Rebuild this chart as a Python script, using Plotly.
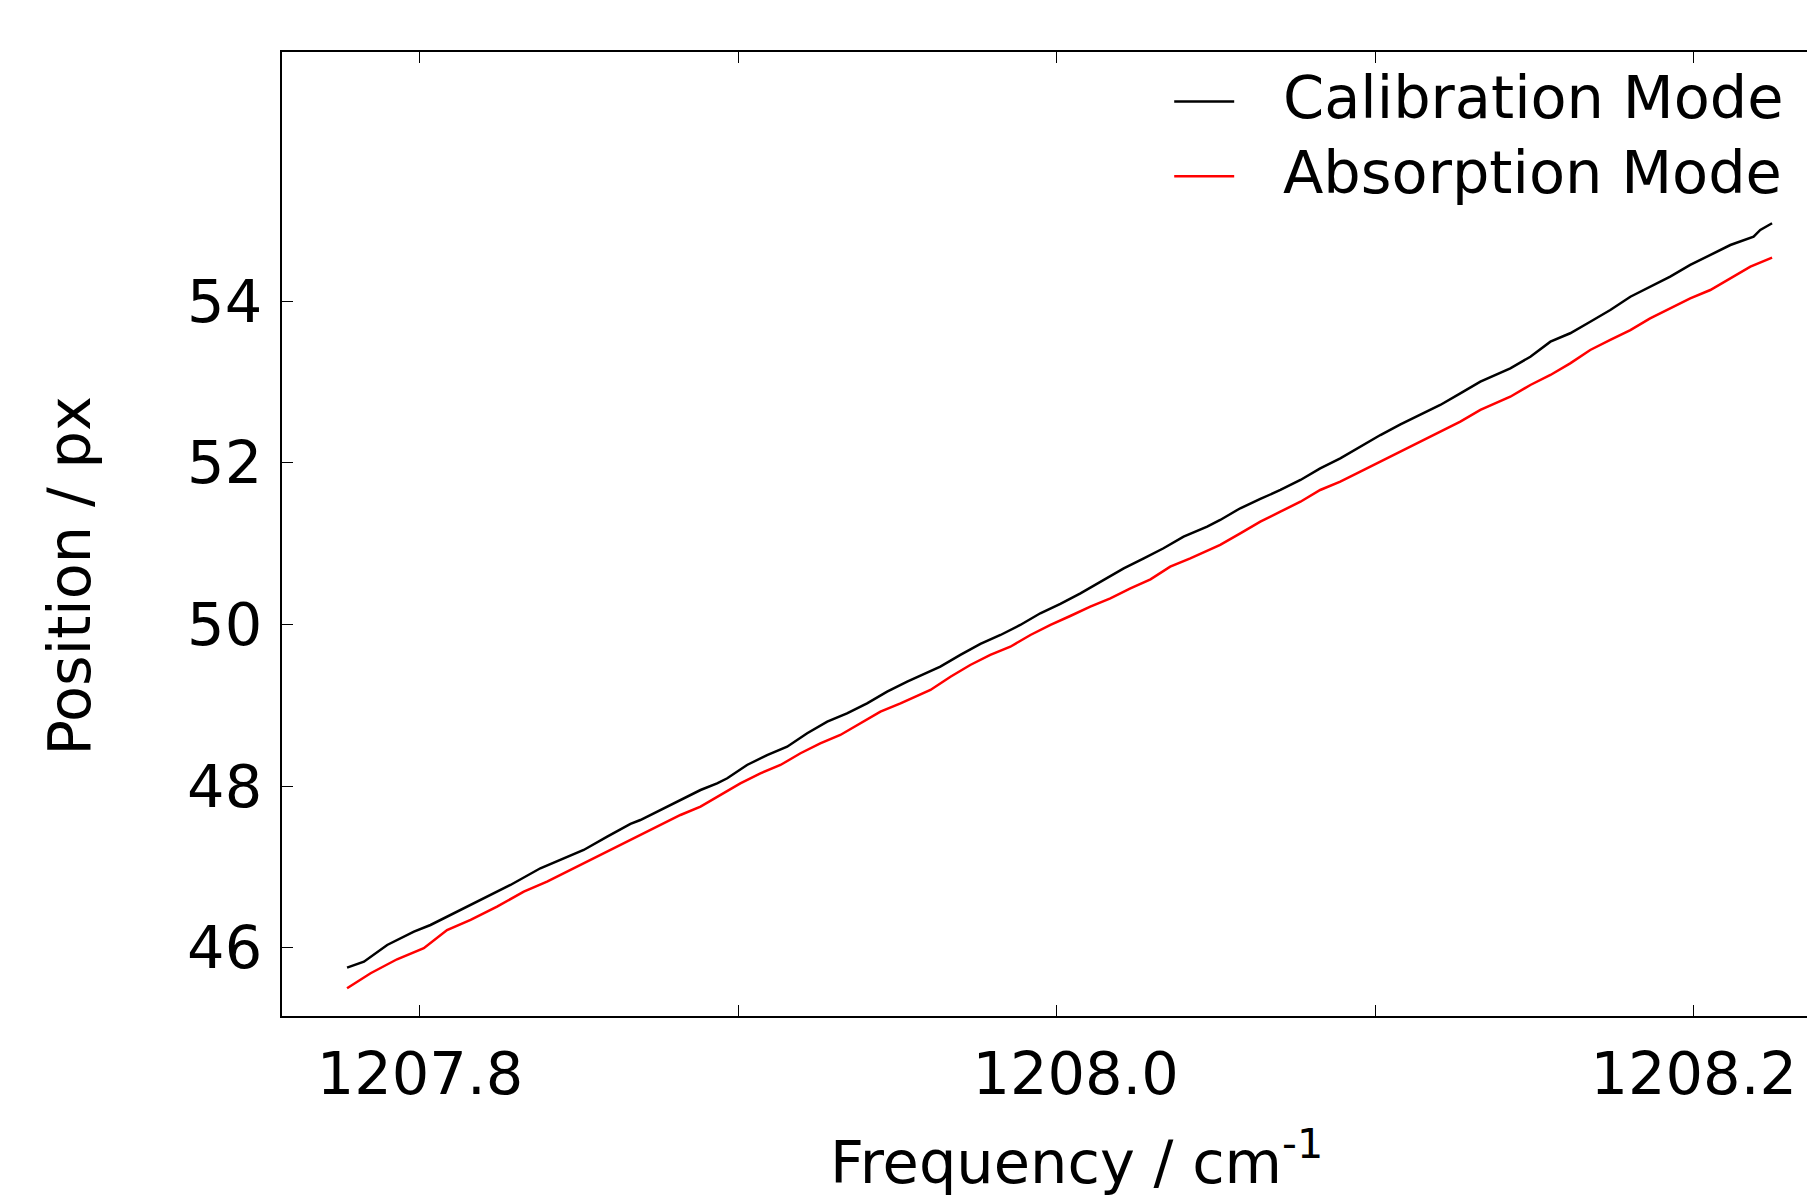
import plotly.graph_objects as go

# ---- data ----
cal_freq = [1207.7771, 1207.7824, 1207.7897, 1207.7981, 1207.8033, 1207.8138, 1207.8211, 1207.8284,
            1207.8378, 1207.8452, 1207.8514, 1207.8588, 1207.8661, 1207.8692, 1207.8755, 1207.8818,
            1207.8881, 1207.8933, 1207.8965, 1207.9027, 1207.9090, 1207.9153, 1207.9216, 1207.9279,
            1207.9341, 1207.9404, 1207.9467, 1207.9530, 1207.9634, 1207.9697, 1207.9760, 1207.9823,
            1207.9885, 1207.9948, 1208.0011, 1208.0074, 1208.0137, 1208.0210, 1208.0273, 1208.0335,
            1208.0398, 1208.0472, 1208.0513, 1208.0576, 1208.0639, 1208.0702, 1208.0765, 1208.0827,
            1208.0890, 1208.0953, 1208.1016, 1208.1079, 1208.1141, 1208.1204, 1208.1267, 1208.1330,
            1208.1424, 1208.1487, 1208.1550, 1208.1612, 1208.1675, 1208.1738, 1208.1801, 1208.1863,
            1208.1926, 1208.1989, 1208.2052, 1208.2115, 1208.2188, 1208.2209, 1208.2246]
cal_pos = [45.754, 45.828, 46.035, 46.199, 46.282, 46.489, 46.641, 46.777,
           46.984, 47.107, 47.210, 47.375, 47.532, 47.581, 47.705, 47.829,
           47.952, 48.035, 48.097, 48.262, 48.385, 48.488, 48.654, 48.797,
           48.901, 49.025, 49.169, 49.292, 49.478, 49.623, 49.759, 49.870,
           49.994, 50.139, 50.254, 50.386, 50.530, 50.695, 50.819, 50.943,
           51.086, 51.210, 51.293, 51.438, 51.553, 51.664, 51.788, 51.932,
           52.056, 52.200, 52.344, 52.477, 52.592, 52.716, 52.860, 53.004,
           53.170, 53.313, 53.499, 53.603, 53.746, 53.891, 54.055, 54.179,
           54.303, 54.448, 54.571, 54.695, 54.798, 54.881, 54.964]

abs_freq = [1207.7771, 1207.7845, 1207.7928, 1207.8012, 1207.8085, 1207.8159, 1207.8242, 1207.8326,
            1207.8399, 1207.8473, 1207.8556, 1207.8619, 1207.8692, 1207.8755, 1207.8818, 1207.8881,
            1207.8944, 1207.9006, 1207.9069, 1207.9132, 1207.9195, 1207.9257, 1207.9320, 1207.9383,
            1207.9446, 1207.9509, 1207.9603, 1207.9666, 1207.9728, 1207.9791, 1207.9854, 1207.9917,
            1207.9980, 1208.0042, 1208.0105, 1208.0168, 1208.0231, 1208.0294, 1208.0356, 1208.0419,
            1208.0482, 1208.0513, 1208.0576, 1208.0639, 1208.0702, 1208.0765, 1208.0827, 1208.0890,
            1208.0953, 1208.1016, 1208.1079, 1208.1141, 1208.1204, 1208.1267, 1208.1330, 1208.1392,
            1208.1424, 1208.1487, 1208.1550, 1208.1612, 1208.1675, 1208.1738, 1208.1801, 1208.1863,
            1208.1926, 1208.1989, 1208.2052, 1208.2115, 1208.2178, 1208.2246]
abs_pos = [45.499, 45.685, 45.858, 45.994, 46.220, 46.344, 46.509, 46.694,
           46.818, 46.963, 47.127, 47.251, 47.396, 47.519, 47.643, 47.746,
           47.891, 48.035, 48.159, 48.262, 48.407, 48.530, 48.633, 48.778,
           48.921, 49.025, 49.190, 49.354, 49.499, 49.623, 49.725, 49.870,
           49.994, 50.105, 50.220, 50.324, 50.448, 50.559, 50.715, 50.819,
           50.930, 50.984, 51.128, 51.272, 51.396, 51.519, 51.664, 51.767,
           51.890, 52.014, 52.146, 52.262, 52.385, 52.509, 52.654, 52.756,
           52.818, 52.963, 53.087, 53.231, 53.396, 53.520, 53.643, 53.788,
           53.912, 54.036, 54.138, 54.283, 54.427, 54.538]

x_major_ticks = [1207.8, 1208.0, 1208.2]
x_major_labels = ["1207.8", "\u00a0\u00a01208.0", "1208.2"]
x_minor_ticks = [1207.9, 1208.1]
y_tickvals = [46, 48, 50, 52, 54]
y_ticktext = ["46", "48", "50", "52", "54"]

series_names = ["Calibration Mode", "Absorption Mode"]
series_colors = ["#000000", "#ff0000"]

# ---- layout constants (page pixels; page body margin removed by post_script) ----
W, H = 1807, 1198
L, T = 281.5, 52
B = H - 1016
R = 0
PW, PH = W - L - R, H - T - B
FONT = "DejaVu Sans"
FS = 59


def px_x(p):  # page pixel -> paper fraction
    return (p - L) / PW


def px_y(p):
    return 1 - (p - T) / PH


fig = go.Figure()
for xs, ys, name, col in [(cal_freq, cal_pos, series_names[0], series_colors[0]),
                          (abs_freq, abs_pos, series_names[1], series_colors[1])]:
    fig.add_trace(go.Scatter(x=xs, y=ys, mode="lines", name=name,
                             line=dict(color=col, width=2.5), showlegend=False))

axis_common = dict(showline=True, linecolor="black", linewidth=2, ticks="inside",
                   ticklen=11, tickwidth=1.3, tickcolor="black", showgrid=False,
                   zeroline=False, tickfont=dict(family=FONT, size=FS, color="black"))

fig.update_xaxes(range=[1207.75667, 1208.23557], tickmode="array", tickvals=x_major_ticks,
                 ticktext=x_major_labels, mirror="allticks", ticklabelstandoff=5,
                 minor=dict(tickmode="array", tickvals=x_minor_ticks, ticks="inside",
                            ticklen=11, tickwidth=1.3, tickcolor="black", showgrid=False),
                 **axis_common)
fig.update_yaxes(range=[45.156, 57.083], tickmode="array", tickvals=y_tickvals,
                 ticktext=y_ticktext, mirror=False, ticklabelstandoff=6, **axis_common)

# legend (manual, matching matplotlib placement)
legend_rows = [101.4, 176.3]
shapes = []
annotations = []
for name, col, yr in zip(series_names, series_colors, legend_rows):
    shapes.append(dict(type="line", xref="paper", yref="paper",
                       x0=px_x(1174), x1=px_x(1234), y0=px_y(yr), y1=px_y(yr),
                       line=dict(color=col, width=2.5)))
    annotations.append(dict(text=name, xref="paper", yref="paper", x=px_x(1281),
                            y=px_y(yr - 4), xanchor="left", yanchor="middle", showarrow=False,
                            font=dict(family=FONT, size=FS, color="black")))

annotations.append(dict(text="Frequency / cm<sup>-1</sup>", xref="paper", yref="paper",
                        x=px_x(1076), y=px_y(1158), xanchor="center", yanchor="middle",
                        showarrow=False, font=dict(family=FONT, size=FS, color="black")))
annotations.append(dict(text="Position / px", xref="paper", yref="paper",
                        x=px_x(68), y=px_y(576), xanchor="center", yanchor="middle",
                        textangle=-90, showarrow=False,
                        font=dict(family=FONT, size=FS, color="black")))

fig.update_layout(width=W, height=H, margin=dict(l=L, r=R, t=T, b=B, pad=0),
                  plot_bgcolor="white", paper_bgcolor="white", showlegend=False,
                  shapes=shapes, annotations=annotations,
                  font=dict(family=FONT, size=FS, color="black"))

fig.write_html("out.html", config={"displayModeBar": False},
               post_script="document.body.style.margin='0';document.body.style.overflow='hidden';")
